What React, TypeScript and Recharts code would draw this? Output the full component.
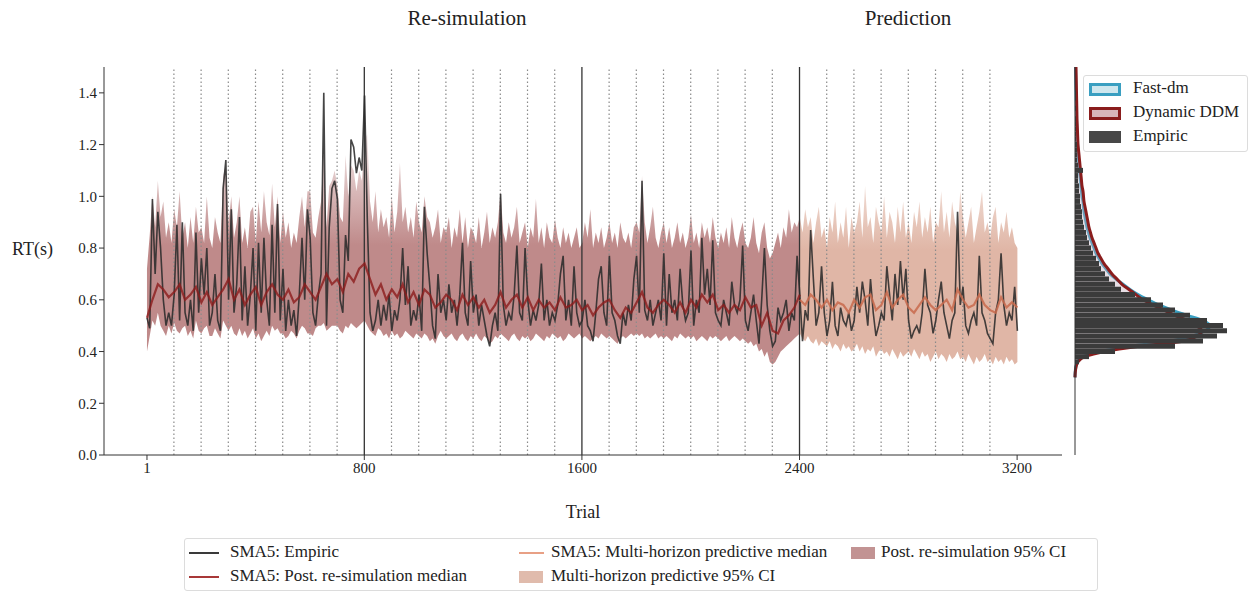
import React from "react";
import {
  ComposedChart,
  Line,
  Area,
  Bar,
  XAxis,
  YAxis,
  ReferenceLine,
} from "recharts";

const FONT = '"Liberation Serif", "Times New Roman", serif';

// empiric RT and CI bounds are read every 10 trials, medians every 20 trials
const TRIAL_STEP = 10;
const MEDIAN_EVERY = 2;
const trialTicks = [1, 800, 1600, 2400, 3200];
const rtTicks = [0, 0.2, 0.4, 0.6, 0.8, 1.0, 1.2, 1.4];
const blockLines = [800, 1600, 2400];
const sessionLines = [
  100, 200, 300, 400, 500, 600, 700, 900, 1000, 1100, 1200, 1300, 1400, 1500,
  1700, 1800, 1900, 2000, 2100, 2200, 2300, 2500, 2600, 2700, 2800, 2900, 3000,
  3100,
];

// SMA5 empiric RT, trials 1..3201
const empiric = [
  0.53, 0.49, 0.99, 0.7, 0.94, 0.8, 0.6, 0.5, 0.55, 0.5,
  0.62, 0.89, 0.52, 0.9, 0.55, 0.5, 0.6, 0.48, 0.86, 0.55,
  0.76, 0.62, 0.8, 0.5, 0.55, 0.7, 0.52, 0.48, 1.03, 1.14,
  0.6, 0.95, 0.55, 0.66, 0.92, 0.52, 0.73, 0.5, 0.62, 0.8,
  0.48, 0.82, 0.55, 0.84, 0.6, 0.5, 0.89, 0.55, 0.97, 0.52,
  0.72, 0.48, 0.6, 0.5, 0.56, 0.46, 0.62, 0.84, 0.6, 0.95,
  0.84, 0.55, 0.5, 0.62, 0.7, 1.4, 0.5, 0.88, 1.03, 1.06,
  0.99, 0.6, 0.55, 0.85, 0.75, 1.22, 1.19, 1.09, 1.15, 1.1,
  1.39,
  0.91, 0.55, 0.48, 0.52, 0.6, 0.5, 0.58, 0.52, 0.62, 0.48,
  0.56, 0.52, 0.6, 0.8, 0.58, 0.73, 0.5, 0.56, 0.52, 0.62,
  0.48, 0.96, 0.78, 0.65, 0.5, 0.45, 0.7, 0.55, 0.6, 0.52,
  0.66, 0.55, 0.6, 0.5, 0.62, 0.82, 0.55, 0.5, 0.75, 0.55,
  0.62, 0.5, 0.58, 0.52, 0.46, 0.42, 0.5, 0.55, 0.48, 1.01,
  0.58, 0.5, 0.55, 0.52, 0.62, 0.81, 0.55, 0.52, 0.8, 0.6,
  0.5, 0.56, 0.52, 0.58, 0.74, 0.52, 0.6, 0.5, 0.55, 0.52,
  0.58, 0.7, 0.77, 0.52, 0.6, 0.5, 0.73, 0.55, 0.5, 0.52,
  0.6, 0.5, 0.48, 0.44, 0.55, 0.68, 0.73, 0.55, 0.5, 0.77,
  0.55, 0.52, 0.46, 0.43, 0.55, 0.5, 0.58, 0.52, 0.68, 0.77,
  0.55, 1.06, 0.56, 0.52, 0.6, 0.5, 0.55, 0.6, 0.52, 0.78,
  0.5, 0.7, 0.55, 0.6, 0.52, 0.72, 0.58, 0.52, 0.55, 0.79,
  0.5, 0.6, 0.55, 0.84, 0.62, 0.72, 0.58, 0.83, 0.55, 0.52,
  0.5, 0.6, 0.55, 0.5, 0.67, 0.58, 0.55, 0.6, 0.81, 0.52,
  0.48, 0.55, 0.62, 0.52, 0.43, 0.6, 0.8, 0.58, 0.48, 0.42,
  0.44, 0.57, 0.52, 0.55, 0.6, 0.48, 0.55, 0.52, 0.77, 0.62,
  0.44, 0.56, 0.52, 0.87, 0.68, 0.5, 0.55, 0.73, 0.55, 0.46,
  0.52, 0.67, 0.5, 0.46, 0.57, 0.52, 0.5, 0.55, 0.48, 0.52,
  0.65, 0.55, 0.67, 0.6, 0.5, 0.68, 0.55, 0.46, 0.5, 0.55,
  0.52, 0.73, 0.62, 0.52, 0.7, 0.58, 0.75, 0.6, 0.72, 0.52,
  0.45, 0.48, 0.5, 0.47, 0.55, 0.72, 0.58, 0.55, 0.47, 0.52,
  0.6, 0.67, 0.55, 0.5, 0.45, 0.52, 0.55, 0.94, 0.58, 0.65,
  0.5, 0.47, 0.52, 0.55, 0.5, 0.77, 0.55, 0.52, 0.47, 0.45,
  0.43, 0.55, 0.6, 0.78, 0.58, 0.5, 0.55, 0.52, 0.65, 0.48,
];

// post re-simulation 95% CI, trials 1..2401 every 10
const postHigh = [
  0.72, 0.85, 1.0, 0.88, 1.06, 0.92, 0.98, 0.84, 0.9, 0.82,
  0.95, 0.88, 1.02, 0.84, 0.9, 0.8, 0.92, 0.82, 0.96, 0.86,
  0.88, 0.82, 1.0, 0.84, 0.8, 0.92, 0.86, 0.82, 1.08, 1.12,
  0.9, 1.0, 0.84, 0.9, 1.0, 0.82, 0.88, 0.8, 0.94, 0.96,
  0.82, 0.98, 0.86, 1.02, 0.9, 0.85, 1.05, 0.88, 1.0, 0.82,
  0.94, 0.84, 0.9, 0.8, 0.86, 0.82, 0.92, 1.0, 0.88, 1.02,
  1.02, 0.86, 0.84, 0.92, 0.98, 1.18, 0.88, 1.04, 1.06, 1.1,
  1.04, 0.92, 0.9, 1.16, 1.0, 1.12, 1.1, 1.02, 1.1, 1.06,
  1.22,
  1.24, 0.98, 0.9, 1.02, 0.86, 0.95, 0.88, 0.92, 0.84, 1.0,
  0.86, 0.94, 1.13, 0.9, 0.96, 0.86, 0.92, 0.84, 0.98, 0.9,
  0.86, 1.0, 0.92, 0.9, 0.84, 0.88, 0.95, 0.82, 0.88, 0.86,
  0.92, 0.8, 0.88, 0.84, 0.95, 0.82, 0.92, 0.8, 0.88, 0.86,
  0.82, 0.92, 0.8, 0.86, 0.94, 0.82, 0.88, 0.84, 0.9, 1.02,
  0.86, 0.82, 0.9, 0.84, 0.88, 0.96, 0.82, 0.86, 0.9, 0.8,
  0.88, 0.84, 0.99, 0.82, 0.88, 0.8, 0.9, 0.84, 0.82, 0.91,
  0.84, 0.8, 0.88, 0.82, 0.86, 0.8, 0.84, 0.88, 0.8, 0.82,
  0.9, 0.84, 0.95, 0.8, 0.86, 0.82, 0.88, 0.8, 0.84, 0.9,
  0.82, 0.86, 0.8, 0.9, 0.84, 0.82, 0.86, 0.8, 0.88, 0.9,
  0.86, 1.08, 0.9, 0.82, 0.88, 0.96, 0.84, 0.8, 0.86, 0.9,
  0.82, 0.88, 0.8, 0.84, 0.9, 0.82, 0.86, 0.8, 0.84, 0.93,
  0.82, 0.86, 0.8, 0.9, 0.84, 0.88, 0.82, 0.92, 0.84, 0.8,
  0.86, 0.82, 0.88, 0.8, 0.92, 0.84, 0.8, 0.86, 0.9, 0.82,
  0.8, 0.84, 0.92, 0.82, 0.78, 0.86, 0.9, 0.8, 0.76, 0.78,
  0.82, 0.86, 0.8, 0.88, 0.84, 0.95, 0.86, 0.9, 0.88, 0.92,
];
const postLow = [
  0.4, 0.46, 0.52, 0.5, 0.55, 0.5, 0.48, 0.46, 0.5, 0.47,
  0.51, 0.48, 0.47, 0.49, 0.5, 0.46, 0.48, 0.45, 0.52, 0.48,
  0.47, 0.49, 0.5, 0.46, 0.46, 0.49, 0.47, 0.45, 0.52, 0.5,
  0.48, 0.5, 0.47, 0.46, 0.49, 0.46, 0.48, 0.45, 0.47, 0.49,
  0.45, 0.47, 0.44, 0.46, 0.48, 0.46, 0.5, 0.48, 0.49, 0.47,
  0.47, 0.45, 0.46, 0.48, 0.47, 0.45, 0.48, 0.5, 0.49, 0.47,
  0.47, 0.46, 0.49, 0.5, 0.5, 0.51, 0.48, 0.49, 0.5, 0.5,
  0.5, 0.48, 0.47, 0.5, 0.49, 0.51, 0.5, 0.49, 0.5, 0.51,
  0.52,
  0.5, 0.48, 0.47, 0.46, 0.49, 0.48, 0.46, 0.47, 0.45, 0.48,
  0.46, 0.47, 0.45, 0.46, 0.48, 0.47, 0.46, 0.45, 0.47, 0.46,
  0.45, 0.47, 0.46, 0.44, 0.45, 0.43, 0.46, 0.48, 0.46, 0.45,
  0.46, 0.47, 0.45, 0.44, 0.46, 0.47, 0.45, 0.44, 0.46, 0.45,
  0.47, 0.45, 0.44, 0.46, 0.45, 0.43, 0.44, 0.46, 0.45, 0.47,
  0.46, 0.45, 0.44, 0.46, 0.47, 0.45, 0.44, 0.46, 0.45, 0.46,
  0.44, 0.45, 0.47, 0.46, 0.45, 0.44, 0.46, 0.45, 0.47, 0.46,
  0.45, 0.46, 0.44, 0.45, 0.47, 0.46, 0.45, 0.46, 0.47, 0.45,
  0.46, 0.45, 0.44, 0.45, 0.46, 0.45, 0.47, 0.46, 0.45, 0.46,
  0.45, 0.44, 0.43, 0.45, 0.46, 0.45, 0.46, 0.47, 0.46, 0.47,
  0.46, 0.47, 0.45, 0.46, 0.45, 0.46, 0.47, 0.45, 0.46, 0.45,
  0.46, 0.45, 0.44, 0.46, 0.45, 0.47, 0.46, 0.45, 0.46, 0.45,
  0.46, 0.44, 0.45, 0.46, 0.45, 0.44, 0.46, 0.45, 0.46, 0.45,
  0.44, 0.45, 0.46, 0.44, 0.45, 0.46, 0.45, 0.44, 0.45, 0.44,
  0.43, 0.44, 0.42, 0.43, 0.4, 0.41, 0.38, 0.4, 0.36, 0.35,
  0.36, 0.38, 0.4, 0.41, 0.42, 0.43, 0.44, 0.45, 0.46, 0.47,
];
// SMA5 post re-simulation median, trials 1..2401 every 20
const postMedian = [
  0.53, 0.6, 0.66, 0.64, 0.61, 0.63, 0.66, 0.6, 0.62, 0.65, 0.59, 0.63, 0.58,
  0.61, 0.64, 0.68, 0.6, 0.64, 0.58, 0.62, 0.65, 0.58, 0.63, 0.66, 0.62, 0.6,
  0.64, 0.59, 0.61, 0.66, 0.63, 0.6, 0.65, 0.7, 0.66, 0.68, 0.63, 0.7, 0.67,
  0.72, 0.74,
  0.68, 0.62, 0.66, 0.6, 0.64, 0.61, 0.66, 0.59, 0.63, 0.58, 0.64, 0.62, 0.57,
  0.59, 0.62, 0.6, 0.56, 0.62, 0.58, 0.61, 0.57, 0.6, 0.55, 0.58, 0.63, 0.57,
  0.6, 0.62, 0.57, 0.61, 0.56, 0.6, 0.57, 0.59, 0.56, 0.61, 0.57, 0.58, 0.6,
  0.56,
  0.58, 0.54, 0.57, 0.59, 0.6, 0.56, 0.53, 0.57, 0.55, 0.59, 0.63, 0.57, 0.55,
  0.58, 0.6, 0.58, 0.55, 0.59, 0.55, 0.6, 0.57, 0.62, 0.59, 0.62, 0.56, 0.58,
  0.55, 0.58, 0.56, 0.61, 0.57, 0.58, 0.5, 0.55, 0.48, 0.47, 0.52, 0.54, 0.57,
  0.62,
];

// multi-horizon predictive 95% CI, trials 2401..3201 every 10
const predHigh = [
  0.92, 0.86, 0.95, 0.88, 0.92, 0.82, 0.9, 0.96, 0.84, 0.88,
  0.8, 0.92, 0.86, 0.98, 0.82, 0.9, 0.84, 0.96, 0.8, 0.92,
  0.86, 0.9, 0.98, 0.84, 1.04, 0.88, 0.92, 0.82, 0.96, 0.9,
  0.86, 1.0, 0.84, 0.94, 0.9, 0.82, 0.96, 0.86, 0.98, 0.84,
  0.9, 0.82, 0.94, 0.88, 0.98, 0.84, 0.92, 0.86, 0.96, 0.82,
  0.9, 0.88, 1.02, 0.86, 0.94, 0.84, 0.98, 0.9, 0.86, 1.02,
  0.92, 0.84, 0.9, 0.96, 0.82, 0.88, 0.94, 1.02, 0.86, 0.9,
  0.84, 0.92, 0.96, 0.82, 0.9, 0.86, 0.94, 0.84, 0.88, 0.82,
  0.8,
];
const predLow = [
  0.47, 0.45, 0.44, 0.46, 0.44, 0.43, 0.45, 0.42, 0.44, 0.43,
  0.42, 0.44, 0.41, 0.43, 0.42, 0.4, 0.43, 0.41, 0.42, 0.4,
  0.41, 0.43, 0.4, 0.42, 0.39, 0.41, 0.4, 0.42, 0.38, 0.4,
  0.41, 0.39, 0.4, 0.38, 0.41, 0.39, 0.37, 0.4, 0.38, 0.39,
  0.4, 0.38, 0.41, 0.39, 0.37, 0.4, 0.38, 0.39, 0.36, 0.38,
  0.4, 0.37, 0.39, 0.38, 0.36, 0.39, 0.37, 0.38, 0.4, 0.37,
  0.38, 0.36, 0.39, 0.37, 0.35, 0.38, 0.36, 0.37, 0.39, 0.36,
  0.37, 0.35, 0.38, 0.36, 0.37, 0.35, 0.38, 0.36, 0.37, 0.35,
  0.36,
];
// SMA5 multi-horizon predictive median, trials 2401..3201 every 20
const predMedian = [
  0.6, 0.58, 0.62, 0.6, 0.57, 0.6, 0.56, 0.59, 0.58, 0.55, 0.6, 0.57, 0.61,
  0.62, 0.56, 0.58, 0.63, 0.57, 0.6, 0.62, 0.57, 0.55, 0.58, 0.61, 0.58, 0.56,
  0.58, 0.6, 0.56, 0.64, 0.6, 0.57, 0.58, 0.62, 0.58, 0.56, 0.55, 0.61, 0.57,
  0.59, 0.57,
];

// RT distribution panel, RT grid 0.30..1.50 step 0.02
const RT_START = 0.3;
const RT_STEP = 0.02;
const histEmpiric = [
  0, 0, 1, 4, 14, 40, 100, 128, 142, 152, 148, 132, 115, 100, 88, 76, 60, 46,
  40, 34, 30, 26, 24, 21, 18, 16, 14, 12, 11, 9, 8, 7, 7, 6, 5, 5, 4, 4, 3, 3,
  8, 3, 2, 2, 2, 2, 1, 1, 1, 1, 1, 0, 1, 0, 1, 1, 0, 0, 0, 0, 0,
];
const densityDDM = [
  0, 0.3, 1, 3, 10, 30, 64, 108, 122, 127, 121, 112, 100, 89, 78, 68, 61, 54,
  47, 42, 37, 33, 29, 26, 23, 21, 19, 17, 15.5, 14, 13, 12, 11, 10, 9, 8.5, 8,
  7, 6.5, 6, 5.5, 5, 4.5, 4, 3.5, 3, 2.8, 2.6, 2.4, 2.2, 2, 1.9, 1.8, 1.7, 1.6,
  1.5, 1.4, 1.3, 1.2, 1.1, 1,
];
const densityFastDm = [
  0, 0.2, 0.8, 2.5, 8, 24, 55, 95, 118, 130, 135, 128, 112, 97, 84, 73, 63, 55,
  48, 41, 35, 31, 27, 24, 21, 19, 17, 15, 13.5, 12, 11, 10, 9, 8.5, 8, 7, 6.5,
  6, 5.5, 5, 4.5, 4, 3.6, 3.2, 2.9, 2.6, 2.3, 2, 1.8, 1.6, 1.5, 1.4, 1.3, 1.2,
  1.1, 1, 0.9, 0.8, 0.7, 0.6, 0.5,
];

const predStart = postHigh.length - 1;
const mainData = empiric.map((v, k) => {
  const row: any = { trial: 1 + k * TRIAL_STEP, empiric: v };
  if (k <= predStart) {
    row.postCI = [postLow[k], postHigh[k]];
    if (k % MEDIAN_EVERY === 0) row.postMedian = postMedian[k / MEDIAN_EVERY];
  }
  if (k >= predStart) {
    const j = k - predStart;
    row.predCI = [predLow[j], predHigh[j]];
    if (j % MEDIAN_EVERY === 0) row.predMedian = predMedian[j / MEDIAN_EVERY];
  }
  return row;
});

const densityData = histEmpiric.map((h, i) => ({
  rt: Math.round((RT_START + i * RT_STEP) * 100) / 100,
  hist: h,
  ddm: densityDDM[i],
  fastdm: densityFastDm[i],
}));

const tickStyle = { fontSize: 15, fill: "#222", fontFamily: FONT };

const LegendLine = ({ color, w = 30, gap = 11 }: { color: string; w?: number; gap?: number }) => (
  <span
    style={{
      display: "inline-block",
      width: w,
      height: 1.6,
      background: color,
      marginRight: gap,
      verticalAlign: "middle",
    }}
  />
);
const LegendPatch = ({
  color,
  border,
  w = 30,
  gap = 11,
}: {
  color: string;
  border?: string;
  w?: number;
  gap?: number;
}) => (
  <span
    style={{
      display: "inline-block",
      width: border ? w - 6 : w,
      height: border ? 7 : 12,
      background: color,
      border: border ? `3px solid ${border}` : "none",
      marginRight: gap,
      verticalAlign: "middle",
    }}
  />
);

const item = (left: number, top: number): React.CSSProperties => ({
  position: "absolute",
  left,
  top,
  whiteSpace: "nowrap",
  lineHeight: "20px",
});

export default function App() {
  return (
    <div
      style={{
        position: "absolute",
        left: 0,
        top: 0,
        width: 1252,
        height: 591,
        background: "#fff",
        fontFamily: FONT,
        color: "#222",
      }}
    >
      <style>{`.recharts-text, .recharts-cartesian-axis-tick-value { font-family: ${FONT}; }`}</style>
      <div style={{ position: "absolute", left: 0, top: 0 }}>
        <ComposedChart
          width={1070}
          height={490}
          data={mainData}
          margin={{ top: 67, right: 8, bottom: 5, left: 54 }}
          style={{ fontFamily: FONT }}
        >
          <defs>
            <linearGradient id="postFill" gradientUnits="userSpaceOnUse" x1="0" y1="130" x2="0" y2="245">
              <stop offset="0" stopColor="#bf8a8a" stopOpacity={0.15} />
              <stop offset="1" stopColor="#bf8a8a" stopOpacity={1} />
            </linearGradient>
            <linearGradient id="predFill" gradientUnits="userSpaceOnUse" x1="0" y1="150" x2="0" y2="250">
              <stop offset="0" stopColor="#e0b6a6" stopOpacity={0.2} />
              <stop offset="1" stopColor="#e0b6a6" stopOpacity={1} />
            </linearGradient>
          </defs>
          <XAxis
            type="number"
            dataKey="trial"
            domain={[-157, 3365]}
            ticks={trialTicks}
            allowDataOverflow
            interval={0}
            height={30}
            tick={tickStyle}
            tickSize={5}
            tickLine={{ stroke: "#333" }}
            axisLine={{ stroke: "#333" }}
          />
          <YAxis
            type="number"
            domain={[0, 1.5]}
            ticks={rtTicks}
            interval={0}
            width={50}
            tickFormatter={(v: number) => v.toFixed(1)}
            tick={tickStyle}
            tickSize={5}
            tickLine={{ stroke: "#333" }}
            axisLine={{ stroke: "#333" }}
          />
          <Area
            dataKey="postCI"
            stroke="none"
            fill="url(#postFill)"
            fillOpacity={1}
            isAnimationActive={false}
          />
          <Area
            dataKey="predCI"
            stroke="none"
            fill="url(#predFill)"
            fillOpacity={1}
            isAnimationActive={false}
          />
          {sessionLines.map((t) => (
            <ReferenceLine
              key={t}
              x={t}
              stroke="#8a8a8a"
              strokeWidth={1.2}
              strokeDasharray="1.5 2.5"
            />
          ))}
          {blockLines.map((t) => (
            <ReferenceLine key={t} x={t} stroke="#333" strokeWidth={1.3} />
          ))}
          <Line
            dataKey="empiric"
            stroke="#2b2b2b"
            strokeOpacity={0.88}
            strokeWidth={1.6}
            dot={false}
            isAnimationActive={false}
          />
          <Line
            dataKey="postMedian"
            stroke="#8c1c1c"
            strokeOpacity={0.8}
            strokeWidth={2.2}
            dot={false}
            connectNulls
            isAnimationActive={false}
          />
          <Line
            dataKey="predMedian"
            stroke="#c86a4c"
            strokeOpacity={0.85}
            strokeWidth={2.2}
            dot={false}
            connectNulls
            isAnimationActive={false}
          />
        </ComposedChart>
      </div>

      <div style={{ position: "absolute", left: 1060, top: 0 }}>
        <ComposedChart
          layout="vertical"
          width={190}
          height={490}
          data={densityData}
          margin={{ top: 67, right: 5, bottom: 35, left: 14 }}
        >
          <XAxis type="number" domain={[0, 170]} hide />
          <YAxis
            type="number"
            dataKey="rt"
            domain={[0, 1.5]}
            reversed
            width={1}
            tick={false}
            tickLine={false}
            axisLine={{ stroke: "#333" }}
          />
          <Bar
            dataKey="hist"
            barSize={5}
            fill="#3b3b3b"
            isAnimationActive={false}
          />
          <Area
            type="monotone"
            dataKey="fastdm"
            stroke="#3a9fc1"
            strokeWidth={3}
            fill="#bfe1ea"
            fillOpacity={0.3}
            isAnimationActive={false}
          />
          <Area
            type="monotone"
            dataKey="ddm"
            stroke="#8a1d1d"
            strokeWidth={3}
            fill="#dba4b2"
            fillOpacity={0.3}
            isAnimationActive={false}
          />
        </ComposedChart>
      </div>

      {/* titles and axis labels */}
      <div
        style={{
          position: "absolute",
          left: 467,
          top: 6,
          transform: "translateX(-50%)",
          fontSize: 21,
        }}
      >
        Re-simulation
      </div>
      <div
        style={{
          position: "absolute",
          left: 908,
          top: 6,
          transform: "translateX(-50%)",
          fontSize: 21,
        }}
      >
        Prediction
      </div>
      <div style={{ position: "absolute", left: 12, top: 239, fontSize: 18 }}>
        RT(s)
      </div>
      <div
        style={{
          position: "absolute",
          left: 583,
          top: 502,
          transform: "translateX(-50%)",
          fontSize: 18,
        }}
      >
        Trial
      </div>

      {/* right panel legend */}
      <div
        style={{
          position: "absolute",
          left: 1083,
          top: 75,
          width: 163,
          height: 75,
          border: "1px solid #dcdcdc",
          borderRadius: 3,
          background: "rgba(255,255,255,0.85)",
          fontSize: 17,
        }}
      >
        <div style={item(5, 2)}>
          <LegendPatch color="#cfe7ee" border="#3a9fc1" w={32} gap={12} />
          Fast-dm
        </div>
        <div style={item(5, 26)}>
          <LegendPatch color="#d8b6ba" border="#8a1d1d" w={32} gap={12} />
          Dynamic DDM
        </div>
        <div style={item(5, 50)}>
          <LegendPatch color="#474747" w={32} gap={12} />
          Empiric
        </div>
      </div>

      {/* main legend */}
      <div
        style={{
          position: "absolute",
          left: 184,
          top: 538,
          width: 912,
          height: 51,
          border: "1px solid #dcdcdc",
          borderRadius: 3,
          fontSize: 17,
        }}
      >
        <div style={item(4, 3)}>
          <LegendLine color="#3a3a3a" />
          SMA5: Empiric
        </div>
        <div style={item(4, 27)}>
          <LegendLine color="#a83838" />
          SMA5: Post. re-simulation median
        </div>
        <div style={item(334, 3)}>
          <LegendLine color="#e8a085" w={25} gap={7} />
          SMA5: Multi-horizon predictive median
        </div>
        <div style={item(334, 27)}>
          <LegendPatch color="#e0bbac" w={24} gap={8} />
          Multi-horizon predictive 95% CI
        </div>
        <div style={item(666, 3)}>
          <LegendPatch color="#c29393" w={24} gap={6} />
          Post. re-simulation 95% CI
        </div>
      </div>
    </div>
  );
}
